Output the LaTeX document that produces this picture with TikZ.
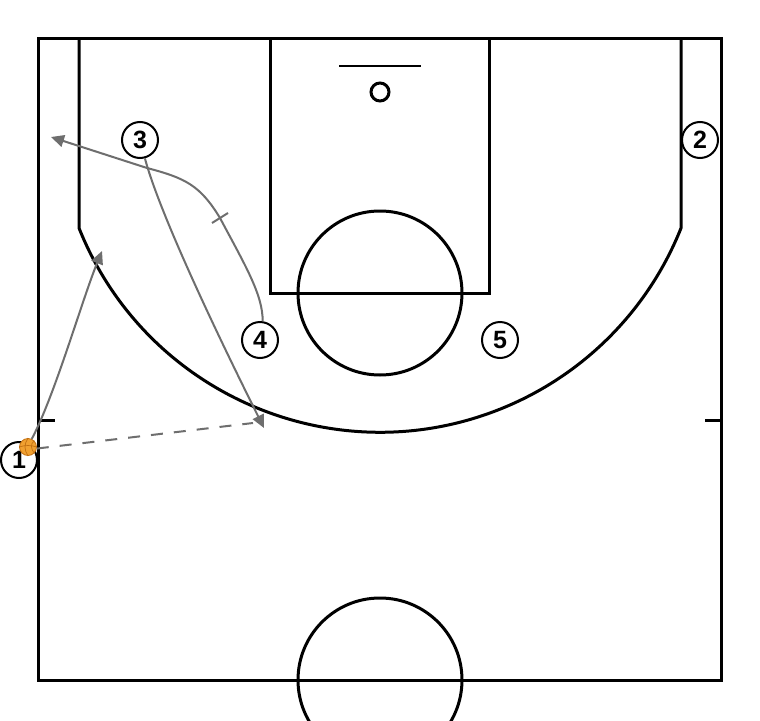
\documentclass[tikz,border=0pt]{standalone}
\usepackage{fontspec}
\setmainfont{Liberation Sans}
\usetikzlibrary{arrows.meta}
\definecolor{mvgray}{HTML}{6E6E6E}
\definecolor{ballorange}{HTML}{F0A030}
\definecolor{balledge}{HTML}{C27012}
\tikzset{
  court/.style={draw=black, line width=3pt},
  player/.style={circle, draw=black, line width=2pt, fill=white, minimum size=36pt, inner sep=0pt, font=\fontsize{25}{25}\selectfont\bfseries},
  move/.style={draw=mvgray, line width=2pt, -{Triangle[length=13pt,width=12pt]}},
  passline/.style={draw=mvgray, line width=2pt, dash pattern=on 12pt off 11pt},
  screenmark/.style={draw=mvgray, line width=2pt}
}
\begin{document}
\begin{tikzpicture}[x=1pt,y=-1pt]
\useasboundingbox (0,0) rectangle (760,720);
\clip (0,0) rectangle (760,720);
\fill[white] (0,0) rectangle (760,720);
% court
\draw[court] (38,38) rectangle (721,680);
\draw[court] (270,38) -- (270,293) -- (489,293) -- (489,38);
\draw[court] (380,293) circle[radius=82];
\draw[court] (380,680) circle[radius=82];
\draw[court] (79,38) -- (79,228) arc[start angle=158.3, end angle=21.7, radius=324] -- (681,38);
\draw[court] (38,420) -- (55,420);
\draw[court] (705,420) -- (721,420);
\draw[black, line width=2pt] (339,66) -- (421,66);
\draw[black, line width=3pt] (380,92) circle[radius=9];
% players
\node[player] (p2) at (700,140) {2};
\node[player] (p3) at (140,140) {3};
\node[player] (p4) at (260,340) {4};
\node[player] (p5) at (500,340) {5};
\node[player] (p1) at (19,460) {1};
% ball
\node[circle, fill=ballorange, draw=balledge, line width=0.8pt, minimum size=17pt, inner sep=0pt] (ball) at (28,447) {};
\draw[balledge, line width=0.7pt] (ball.north) .. controls (24,444) and (24,450) .. (ball.south);
\draw[balledge, line width=0.7pt] (ball.west) .. controls (25,445) and (31,445) .. (ball.east);
\draw[balledge, line width=0.7pt] (ball.north east) .. controls (30,444) and (31,449) .. (ball.south east);
% end points
\coordinate (e1) at (102,251);
\coordinate (e3) at (264,428);
\coordinate (e4) at (51,137);
\coordinate (epass) at (253,423);
% pass
\draw[passline] (ball.-10) -- (epass);
% cuts
\draw[move] (ball.65) .. controls (55,395) and (82,300) .. (e1);
\draw[move] (p3.-75) .. controls (160,215) and (220,340) .. (e3);
\draw[move] (p4.82) .. controls (263,295) and (245,265) .. (220,218)
  .. controls (200,185) and (185,178) .. (147,168) -- (e4);
\draw[screenmark] (212,223) -- (228,213);
\end{tikzpicture}
\end{document}
